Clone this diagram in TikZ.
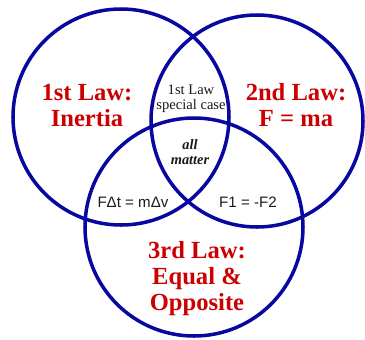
\documentclass[tikz,border=0pt]{standalone}
\usepackage{fontspec}
\setmainfont{Liberation Serif}
\setsansfont{Liberation Sans}
\usetikzlibrary{positioning}
\definecolor{cblue}{HTML}{0808A0}
\definecolor{cred}{HTML}{CC0000}
\definecolor{ctext}{HTML}{1A1A1A}

\begin{document}
\begin{tikzpicture}[x=0.02cm, y=-0.02cm,
  lawring/.style={draw=cblue, line width=2pt},
  lawtitle/.style={font=\fontsize{14}{14.8}\selectfont\bfseries, cred, align=center},
  smalltext/.style={font=\fontsize{8.3}{8.6}\selectfont, ctext, align=center}]
  \useasboundingbox (0,0) rectangle (365,339);
  % Circle centres
  \coordinate (first) at (121,117);
  \coordinate (second) at (257,121);
  \coordinate (third) at (194,227);
  \draw[lawring] (first) circle (108);
  \draw[lawring] (second) circle (106);
  \draw[lawring] (third) circle (109);

  % Main labels
  \node[lawtitle] (inertia) at (87,105) {1st Law:\\Inertia};
  \node[lawtitle] (fma) at (296,105) {2nd Law:\\F = ma};
  \node[lawtitle] (opposite) at (197,279) {3rd Law:\\Equal \&\\Opposite};

  % Overlap labels
  \node[smalltext] (special) at (191,99) {1st Law\\special case};
  \node[smalltext, font=\fontsize{8.2}{8.8}\selectfont\bfseries\itshape] (matter) at (190,152) {all\\matter};
  \node[smalltext, font=\sffamily\fontsize{8.6}{9}\selectfont] (impulse) at (133,202) {FΔt = mΔv};
  \node[smalltext, font=\sffamily\fontsize{8.6}{9}\selectfont] (pair) at (248,202) {F1 = -F2};
\end{tikzpicture}
\end{document}
